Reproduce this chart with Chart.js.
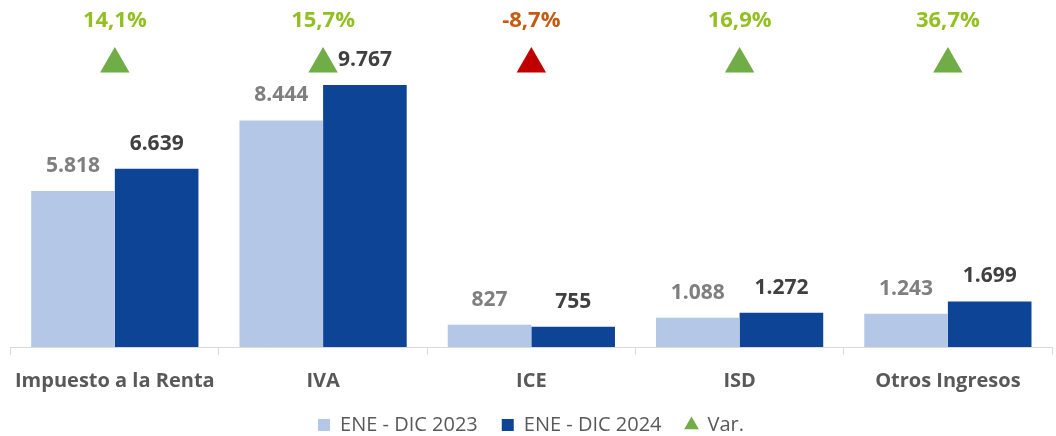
<!DOCTYPE html>
<html>
<head>
<meta charset="utf-8">
<script src="https://cdn.jsdelivr.net/npm/chart.js@4"></script>
<style>
    html, body { margin: 0; padding: 0; background: #ffffff; }
    #wrap { width: 1056px; height: 436px; }
</style>
</head>
<body>
<div id="wrap"><canvas id="myChart"></canvas></div>
<script>
const categories = ["Impuesto a la Renta", "IVA", "ICE", "ISD", "Otros Ingresos"];
const values2023 = [5818, 8444, 827, 1088, 1243];
const values2024 = [6639, 9767, 755, 1272, 1699];
const varPct = [14.1, 15.7, -8.7, 16.9, 36.7];

const LIGHT = "#b4c7e7";
const DARK = "#0e4496";
const GREEN = "#70ad47";
const RED = "#c00000";
const FONT = "'Open Sans', sans-serif";

function fmtThousands(v) {
    return v.toString().replace(/\B(?=(\d{3})+(?!\d))/g, ".");
}

function fmtPct(v) {
    return v.toFixed(1).replace(".", ",") + "%";
}

// value labels above bars + the variation row (triangle and percent) over each category
const labelsPlugin = {
    id: "labelsPlugin",
    afterDatasetsDraw(chart) {
        const ctx = chart.ctx;
        const xScale = chart.scales.x;
        const top = chart.chartArea.top;

        ctx.save();
        ctx.textAlign = "center";
        ctx.textBaseline = "middle";
        ctx.font = "bold 21px " + FONT;

        [0, 1].forEach(di => {
            const meta = chart.getDatasetMeta(di);
            const ds = chart.data.datasets[di];
            meta.data.forEach((bar, i) => {
                ctx.fillStyle = di === 0 ? "#7f7f7f" : "#404040";
                ctx.fillText(fmtThousands(ds.data[i]), bar.x, bar.y - 25);
            });
        });

        ctx.font = "bold 22px " + FONT;
        varPct.forEach((v, i) => {
            const x = xScale.getPixelForValue(i);
            const y = top + 39;
            ctx.fillStyle = v >= 0 ? GREEN : RED;
            Chart.helpers.drawPoint(ctx, {pointStyle: "triangle", radius: 17, borderWidth: 0}, x, y);
            ctx.fillStyle = v >= 0 ? "#92c020" : "#c55a11";
            ctx.fillText(fmtPct(v), x, y - 43);
        });
        ctx.restore();
    }
};

// keep the wide gaps between legend items but pull the legend closer to the axis
const legendFitPlugin = {
    id: "legendFit",
    beforeInit(chart) {
        const legend = chart.legend;
        const originalFit = legend.fit;
        legend.fit = function fit() {
            originalFit.bind(legend)();
            this.height -= 25;
        };
        legend.draw = function draw() {
            if (!this.options.display) {
                return;
            }
            chart.ctx.save();
            chart.ctx.translate(0, -16);
            this._draw();
            chart.ctx.restore();
        };
    }
};

new Chart("myChart", {
    type: "bar",
    data: {
        labels: categories,
        datasets: [{
            label: "ENE - DIC 2023",
            data: values2023,
            backgroundColor: LIGHT,
            categoryPercentage: 0.803,
            barPercentage: 1.0
        }, {
            label: "ENE - DIC 2024",
            data: values2024,
            backgroundColor: DARK,
            categoryPercentage: 0.803,
            barPercentage: 1.0
        }, {
            type: "line",
            label: "Var.",
            data: varPct,
            yAxisID: "yVar",
            showLine: false,
            pointStyle: "triangle",
            pointRadius: 0,
            backgroundColor: GREEN,
            borderColor: GREEN,
            pointBackgroundColor: GREEN,
            pointBorderColor: GREEN
        }]
    },
    options: {
        responsive: true,
        maintainAspectRatio: false,
        animation: false,
        layout: {
            padding: {left: 10, right: 4, top: 25, bottom: 0}
        },
        scales: {
            x: {
                grid: {
                    drawOnChartArea: false,
                    drawTicks: true,
                    tickLength: 8,
                    color: "#d9d9d9",
                    offset: true
                },
                border: {color: "#d9d9d9", width: 1},
                ticks: {
                    color: "#595959",
                    padding: 14,
                    font: {family: FONT, size: 20, weight: "bold"}
                }
            },
            y: {
                display: false,
                min: 0,
                max: 12000
            },
            yVar: {
                display: false,
                min: -100,
                max: 100
            }
        },
        plugins: {
            legend: {
                position: "bottom",
                labels: {
                    usePointStyle: true,
                    boxWidth: 12,
                    boxHeight: 12,
                    color: "#595959",
                    padding: 24,
                    font: {family: FONT, size: 20},
                    generateLabels(chart) {
                        const items = Chart.defaults.plugins.legend.labels.generateLabels(chart);
                        items.forEach(it => {
                            it.lineWidth = 0;
                            it.pointStyle = it.text === "Var." ? "triangle" : "rect";
                        });
                        return items;
                    }
                }
            },
            tooltip: {enabled: false}
        }
    },
    plugins: [labelsPlugin, legendFitPlugin]
});
</script>
</body>
</html>
